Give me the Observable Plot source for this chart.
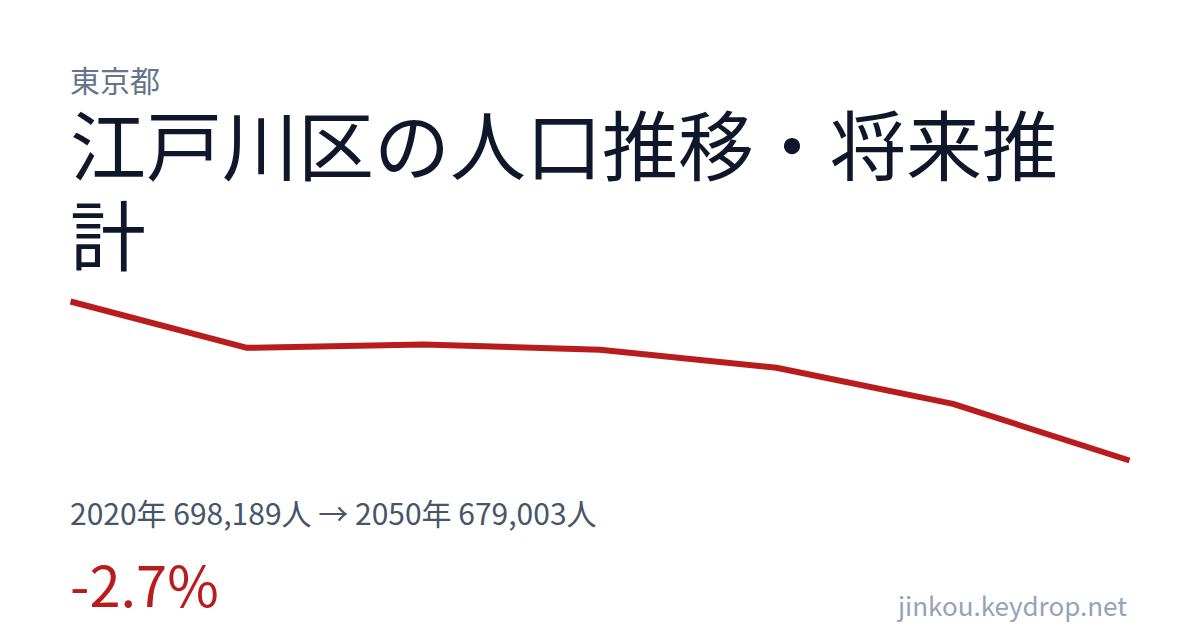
<!DOCTYPE html>
<html lang="ja">
<head>
<meta charset="utf-8">
<script src="https://cdn.jsdelivr.net/npm/d3@7"></script>
<script src="https://cdn.jsdelivr.net/npm/@observablehq/plot@0.6"></script>
<style>
  html, body { margin: 0; padding: 0; background: #ffffff; }
  #card { position: relative; width: 1200px; height: 630px; overflow: hidden; background: #fff;
    font-family: "Noto Sans CJK JP", "Noto Sans", sans-serif; }
  #pref { position: absolute; left: 70px; top: 64px; font-size: 30px; line-height: 1; color: #64748b; }
  #title { position: absolute; left: 70px; top: 97px; width: 1060px; font-size: 76px; line-height: 90px; color: #0f172a; }
  #chart { position: absolute; left: 0; top: 290px; }
  #stats { position: absolute; left: 70px; top: 497px; font-size: 30px; line-height: 1; color: #475569; }
  #change { position: absolute; left: 70px; top: 555px; font-size: 56px; line-height: 1; color: #b91c1c; }
  #site { position: absolute; right: 73px; top: 592px; font-size: 26px; line-height: 1; color: #94a3b8; }
</style>
</head>
<body>
<div id="card">
  <div id="pref">東京都</div>
  <div id="title">江戸川区の人口推移・将来推計</div>
  <div id="chart"></div>
  <div id="stats">2020年 698,189人 → 2050年 679,003人</div>
  <div id="change">-2.7%</div>
  <div id="site">jinkou.keydrop.net</div>
</div>
<script>
const years = [2020, 2025, 2030, 2035, 2040, 2045, 2050];
const population = [698189, 692600, 693000, 692360, 690190, 685840, 679003];

const data = years.map((year, i) => ({year, population: population[i]}));

const chart = Plot.plot({
  width: 1200,
  height: 180,
  marginLeft: 70,
  marginRight: 71,
  marginTop: 11,
  marginBottom: 10,
  x: {axis: null, domain: d3.extent(years)},
  y: {axis: null, domain: d3.extent(population)},
  marks: [
    Plot.line(data, {x: "year", y: "population", stroke: "#b91c1c", strokeWidth: 6, strokeLinejoin: "round", strokeLinecap: "butt"})
  ]
});
document.getElementById("chart").appendChild(chart);
</script>
</body>
</html>
